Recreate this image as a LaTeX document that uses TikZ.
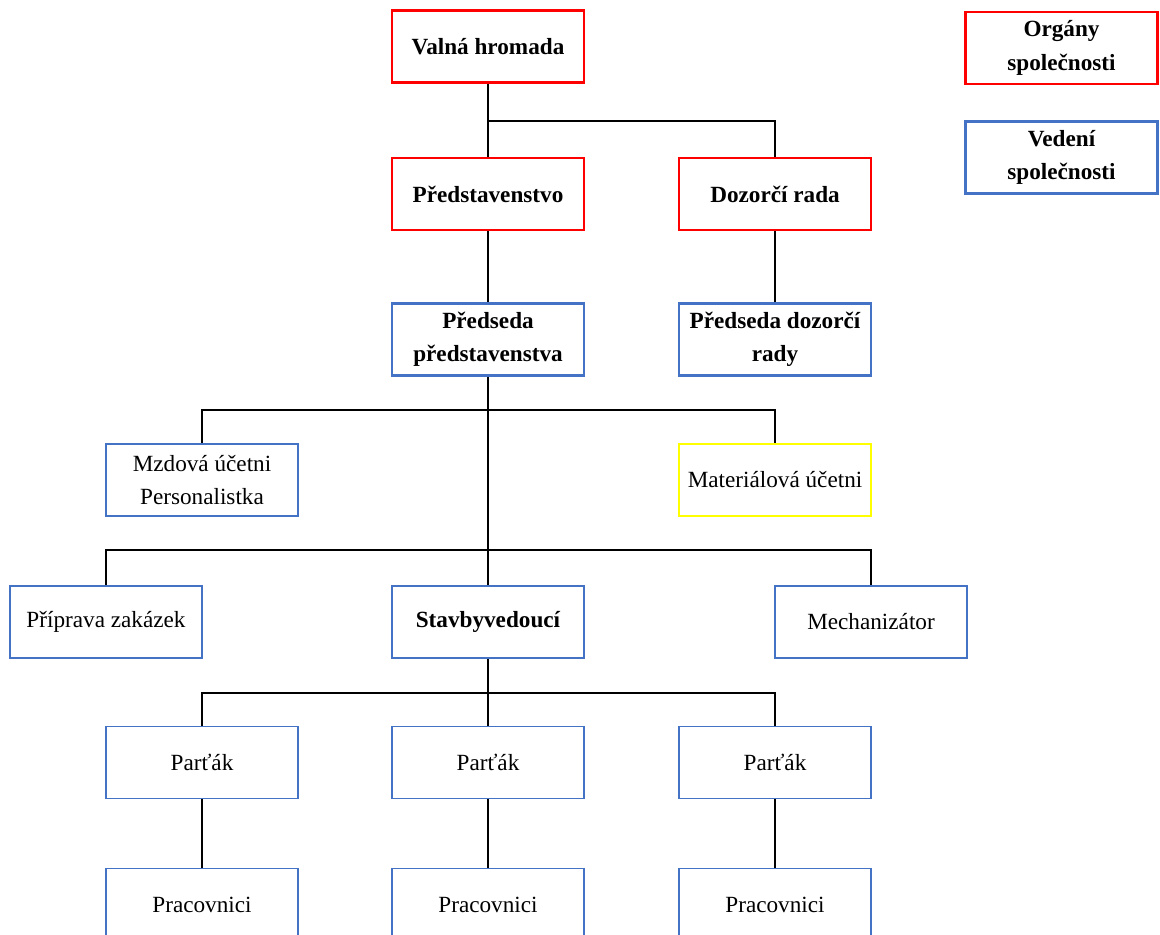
\documentclass[tikz,border=0pt]{standalone}
\usepackage{fontspec}
\setmainfont{Liberation Serif}
\begin{document}
\begin{tikzpicture}[x=0.02cm,y=-0.02cm]


\newcommand{\orgtxt}{\fontsize{13.2}{19}\selectfont\bfseries}
\newcommand{\plaintxt}{\fontsize{13.2}{18.5}\selectfont}

  \definecolor{orgcol}{rgb}{1.0,0.0,0.0}
  \definecolor{vedcol}{RGB}{68,114,196}
  \definecolor{matcol}{rgb}{1.0,1.0,0.0}

 \clip (0,0) rectangle (1160,935);

 \tikzset{
      boxstl/.style={draw,minimum width=3.84cm,minimum height=1.44cm,
        inner sep=2pt,align=center,text=black},
      organ/.style={boxstl,draw=orgcol,line width=1.6pt,font=\orgtxt},
      vedeni/.style={boxstl,draw=vedcol,line width=1.6pt,font=\orgtxt},
      prac/.style={boxstl,draw=vedcol,line width=0.9pt,font=\plaintxt},
      conn/.style={line width=0.9pt,black},
    }

 % legend
 \node[organ] (legorg) at (1061.5,48) {Orgány\\společnosti};
 \node[vedeni] (legved) at (1061.5,157.5) {Vedení\\společnosti};

 \node[organ] (valna) at (488,46.5) {Valná hromada};
 \node[organ] (predst) at (488,194) {Představenstvo};
 \node[organ] (dozor) at (775,194) {Dozorčí rada};

 \node[vedeni] (predseda) at (488,339.5) {Předseda\\představenstva};
 \node[vedeni] (predsdoz) at (775,339.5) {Předseda dozorčí\\rady};

 \node[prac] (mzdova) at (202,480) {Mzdová účetni\\Personalistka};
 \node[prac,draw=matcol] (material) at (775,480) {Materiálová účetni};

 \node[prac] (priprava) at (106,622) {Příprava zakázek};
 \node[vedeni] (stavby) at (488,622) {Stavbyvedoucí};
 \node[prac] (mechan) at (871,622) {Mechanizátor};

 % junctions of the buses
 \coordinate (j1) at (488,121);
 \coordinate (j3) at (488,410);
 \coordinate (j4) at (488,550);
 \coordinate (j5) at (488,693);

 \draw[conn] (valna) -- (predst);
 \draw[conn] (j1) -| (dozor.north);
 \draw[conn] (predst) -- (predseda);
 \draw[conn] (dozor) -- (predsdoz);

 \draw[conn] (predseda) -- (stavby);
 \draw[conn] (mzdova.north) |- (j3) -| (material.north);
 \draw[conn] (priprava.north) |- (j4) -| (mechan.north);

 \foreach \i/\x in {1/202,2/488,3/775}{
   \node[prac] (partak\i) at (\x,762.5) {Parťák};
   \node[prac] (pracov\i) at (\x,904.5) {Pracovnici};
   \draw[conn] (partak\i) -- (pracov\i);
 }
 \draw[conn] (partak1.north) |- (j5) -| (partak3.north);
 \draw[conn] (stavby) -- (partak2);
\end{tikzpicture}
\end{document}
